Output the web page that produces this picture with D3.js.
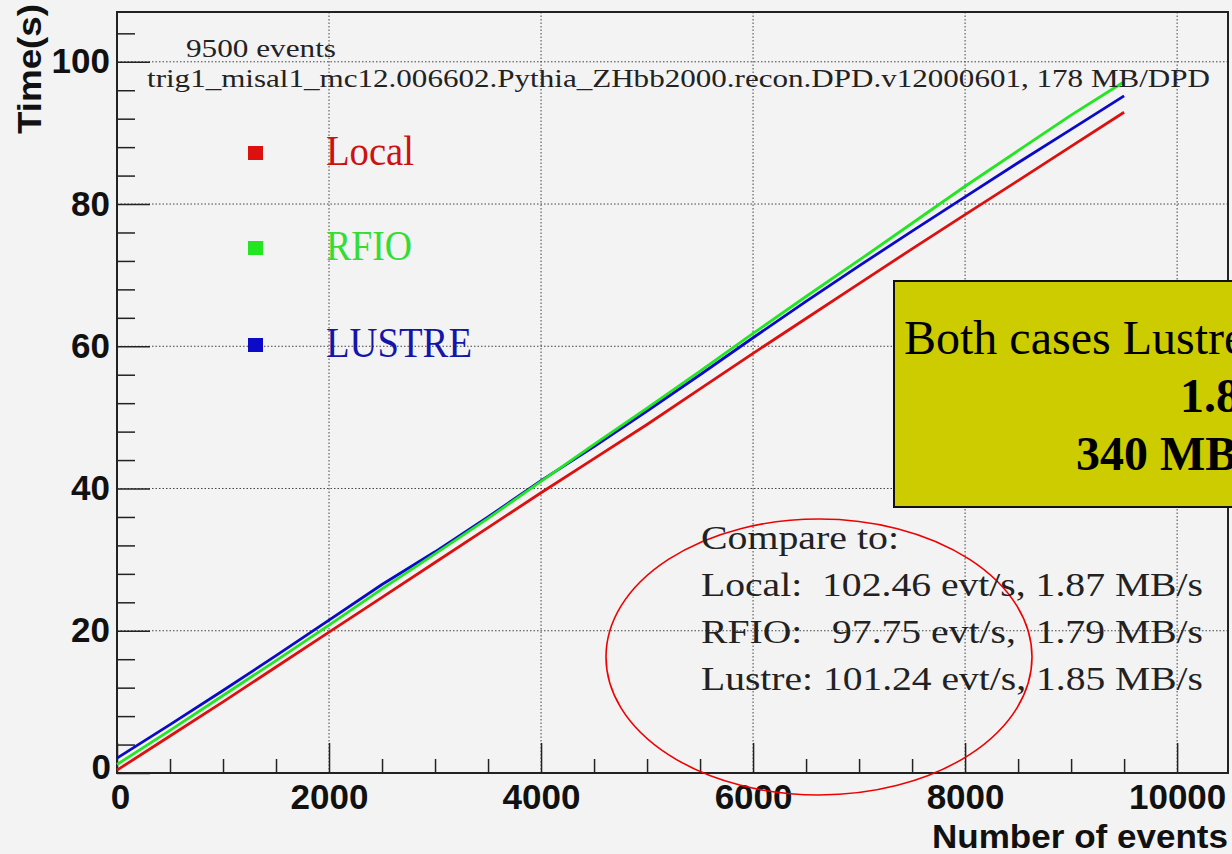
<!DOCTYPE html>
<html><head><meta charset="utf-8">
<script src="https://cdn.jsdelivr.net/npm/d3@7"></script>
<style>
html,body{margin:0;padding:0;background:#f3f3f3;}
svg{display:block;}
</style></head>
<body>
<svg id="c" width="1232" height="854"></svg>
<script>
const events = [0,500,1000,1500,2000,2500,3000,3500,4000,4500,5000,5500,6000,6500,7000,7500,8000,8500,9000,9500];
const localT  = [0.4,5.2,10.0,14.9,19.8,24.7,29.6,34.5,39.4,44.2,49.0,54.0,59.0,63.9,68.8,73.7,78.5,83.3,88.1,92.9];
const rfioT   = [1.2,6.0,10.9,15.8,20.8,25.9,30.8,35.8,41.0,46.2,51.3,56.5,61.8,67.0,72.1,77.3,82.5,87.5,92.5,97.2];
const lustreT = [2.1,6.8,11.6,16.5,21.5,26.5,31.1,36.0,41.1,45.9,50.9,56.0,61.2,66.3,71.3,76.2,81.0,85.8,90.5,95.2];
const seriesNames = ["Local","RFIO","LUSTRE"];
const xMajor = [0,2000,4000,6000,8000,10000];
const yMajor = [0,20,40,60,80,100];
const titleLines = ["9500 events","trig1_misal1_mc12.006602.Pythia_ZHbb2000.recon.DPD.v12000601, 178 MB/DPD"];
const compareLines = ["Compare to:","Local:  102.46 evt/s, 1.87 MB/s","RFIO:   97.75 evt/s,  1.79 MB/s","Lustre: 101.24 evt/s, 1.85 MB/s"];
const boxLines = ["Both cases Lustre","1.8","340 MB"];

const svg = d3.select("#c");
const L=117, T=12, R=1228, B=773;
const x = d3.scaleLinear().domain([0,10480]).range([L,R]);
const y = d3.scaleLinear().domain([0,107]).range([B,T]);
const serif = "'Liberation Serif','Times New Roman',serif";
const sans = "'Liberation Sans',Arial,sans-serif";

// grid
const grid = svg.append("g").attr("stroke","#444").attr("stroke-width",1).attr("stroke-dasharray","1.5,2");
grid.selectAll(".gx").data(xMajor.filter(d=>d>0)).join("line")
  .attr("x1",d=>x(d)).attr("x2",d=>x(d)).attr("y1",T).attr("y2",B);
grid.selectAll(".gy").data(yMajor.filter(d=>d>0)).join("line")
  .attr("x1",L).attr("x2",R).attr("y1",d=>y(d)).attr("y2",d=>y(d));

// minor ticks
const xMinor = d3.range(0,10481,500).filter(d=>d%2000!==0);
const yMinor = d3.range(0,107,4).filter(d=>d%20!==0);
svg.append("g").attr("transform",`translate(0,${B})`)
  .call(d3.axisBottom(x).tickValues(xMinor).tickFormat("").tickSize(-14).tickSizeOuter(0))
  .call(g=>g.select(".domain").remove())
  .selectAll("line").attr("stroke","#222").attr("stroke-width",1.5);
svg.append("g").attr("transform",`translate(${L},0)`)
  .call(d3.axisLeft(y).tickValues(yMinor).tickFormat("").tickSize(-18).tickSizeOuter(0))
  .call(g=>g.select(".domain").remove())
  .selectAll("line").attr("stroke","#222").attr("stroke-width",1.5);

// major axes
const xa = svg.append("g").attr("transform",`translate(0,${B})`)
  .call(d3.axisBottom(x).tickValues(xMajor).tickFormat(d3.format("d")).tickSize(-30).tickSizeOuter(0).tickPadding(12));
xa.select(".domain").remove();
xa.selectAll("line").attr("stroke","#222").attr("stroke-width",1.5);
xa.selectAll("text").attr("font-family",sans).attr("font-weight","bold").attr("font-size",35).attr("fill","#111")
  .attr("dy","0.71em").attr("y",11);
xa.selectAll("text").filter(d=>d===0).attr("dx",3);

const ya = svg.append("g").attr("transform",`translate(${L},0)`)
  .call(d3.axisLeft(y).tickValues(yMajor).tickSize(-33).tickSizeOuter(0).tickPadding(7));
ya.select(".domain").remove();
ya.selectAll("line").attr("stroke","#222").attr("stroke-width",1.5);
ya.selectAll("text").attr("font-family",sans).attr("font-weight","bold").attr("font-size",35).attr("fill","#111");
ya.selectAll("text").filter(d=>d===0).attr("dy","0.15em").attr("x",-6);

// frame
svg.append("rect").attr("x",L).attr("y",T).attr("width",R-L).attr("height",B-T)
  .attr("fill","none").attr("stroke","#222").attr("stroke-width",2);

// lines
const cols = ["#dd1010","#22e622","#0a0ac8"];
const data = [localT, rfioT, lustreT];
const line = d3.line().x((d,i)=>x(events[i])).y(d=>y(d));
[0,2,1].forEach(k=>{
  svg.append("path").datum(data[k]).attr("d",line).attr("fill","none")
    .attr("stroke",cols[k]).attr("stroke-width",2.8).attr("stroke-linejoin","round");
});

// title text
svg.append("text").attr("x",186).attr("y",57).attr("font-family",serif).attr("font-size",25).attr("fill","#222")
  .attr("textLength",150).attr("lengthAdjust","spacingAndGlyphs").text(titleLines[0]);
svg.append("text").attr("x",147).attr("y",87).attr("font-family",serif).attr("font-size",25).attr("fill","#222")
  .attr("textLength",1063).attr("lengthAdjust","spacingAndGlyphs").text(titleLines[1]);

// legend
const legY = [153,248,345];
const legW = [88,86,146];
const legText = ["#cc1111","#33dd33","#1515aa"];
seriesNames.forEach((n,i)=>{
  svg.append("rect").attr("x",248).attr("y",legY[i]-7).attr("width",15).attr("height",14).attr("fill",cols[i]);
  svg.append("text").attr("x",326).attr("y",legY[i]+12).attr("font-family",serif).attr("font-size",42)
    .attr("fill",legText[i]).attr("textLength",legW[i]).attr("lengthAdjust","spacingAndGlyphs").text(n);
});

// axis titles
svg.append("text").attr("transform","translate(41,4) rotate(-90)").attr("text-anchor","end")
  .attr("font-family",sans).attr("font-weight","bold").attr("font-size",33).attr("fill","#111")
  .attr("textLength",130).attr("lengthAdjust","spacingAndGlyphs").text("Time(s)");
svg.append("text").attr("x",932).attr("y",848)
  .attr("font-family",sans).attr("font-weight","bold").attr("font-size",33).attr("fill","#111")
  .attr("textLength",296).attr("lengthAdjust","spacingAndGlyphs").text("Number of events");

// ellipse and comparison text
svg.append("ellipse").attr("cx",819).attr("cy",657).attr("rx",213).attr("ry",138)
  .attr("fill","none").attr("stroke","#ee0000").attr("stroke-width",1.6);
const cmpY = [549,596,643,690];
const cmpW = [198,502,502,502];
compareLines.forEach((t,i)=>{
  svg.append("text").attr("x",701).attr("y",cmpY[i]).attr("font-family",serif).attr("font-size",34)
    .attr("fill","#222").attr("xml:space","preserve").style("white-space","pre")
    .attr("textLength",cmpW[i]).attr("lengthAdjust","spacingAndGlyphs").text(t);
});

// yellow box
svg.append("rect").attr("x",894).attr("y",281).attr("width",400).attr("height",226)
  .attr("fill","#cccc00").attr("stroke","#111").attr("stroke-width",2);
svg.append("text").attr("x",904).attr("y",354).attr("font-family",serif).attr("font-size",48).attr("fill","#000")
  .text(boxLines[0]);
svg.append("text").attr("x",1180).attr("y",412).attr("font-family",serif).attr("font-weight","bold").attr("font-size",48).attr("fill","#000")
  .text(boxLines[1]);
svg.append("text").attr("x",1076).attr("y",470).attr("font-family",serif).attr("font-weight","bold").attr("font-size",48).attr("fill","#000")
  .text(boxLines[2]);
</script>
</body></html>
